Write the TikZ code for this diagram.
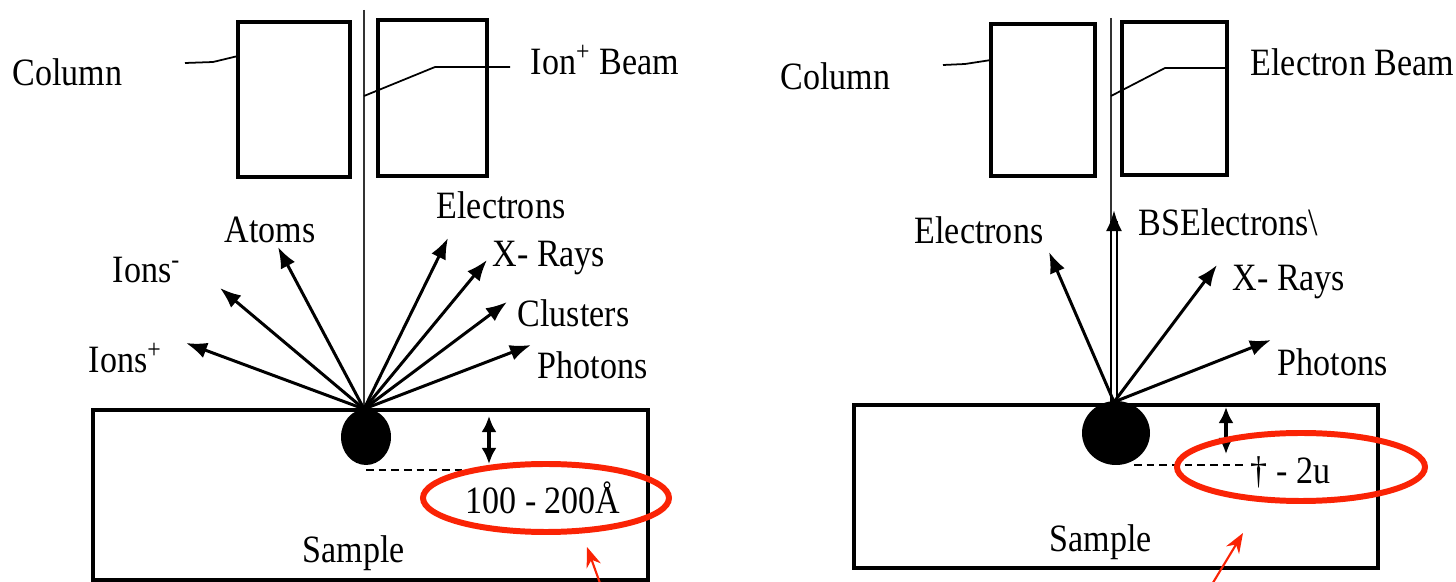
\documentclass[tikz,border=0pt]{standalone}
\usepackage{fontspec}
\setmainfont{Liberation Serif}
\usetikzlibrary{arrows.meta}
\definecolor{markred}{RGB}{250,35,5}
\newcommand{\narrow}[1]{\scalebox{0.88}[1]{#1}}

\begin{document}
\begin{tikzpicture}[x=0.01cm, y=-0.01cm,
  lbl/.style={inner sep=0pt, font=\fontsize{11}{13}\selectfont},
  colbox/.style={line width=1.1pt},
  samplebox/.style={line width=0.9pt},
  beam/.style={line width=0.45pt, black!80},
  leader/.style={line width=0.5pt},
  ray/.style={line width=0.85pt, -{Latex[length=2.1mm,width=1.6mm]}},
  depth/.style={line width=1pt, {Latex[length=1.6mm,width=1.5mm]}-{Latex[length=1.6mm,width=1.5mm]}},
  dashline/.style={line width=0.6pt, dash pattern=on 2.2pt off 1.4pt},
  ring/.style={draw=markred, line width=1.7pt},
  pointer/.style={draw=markred, line width=0.6pt, -{Stealth[length=2mm,width=1.5mm]}}]
  \useasboundingbox (0,0) rectangle (1456,582);

  % ---- left: ion beam ----
  \draw[colbox] (238,22) rectangle (350,177);
  \draw[colbox] (378,20) rectangle (487,176);
  \coordinate (beamTopL) at (364,10);
  \coordinate (hitL) at (364,409);
  \draw[beam] (beamTopL) -- (hitL);
  \node[lbl, anchor=west] (colLblL) at (12,72) {\narrow{Column}};
  \node[lbl, anchor=west] (ionBeam) at (530,60) {\narrow{Ion\textsuperscript{+} Beam}};
  \coordinate (colPinL) at (185,63);
  \coordinate (colEdgeL) at (238,56);
  \draw[leader] (colPinL) -- (213,62) -- (colEdgeL);
  \coordinate (beamPinL) at (364,96);
  \coordinate (ionPin) at (510,67);
  \draw[leader] (beamPinL) -- (435,67) -- (ionPin);

  \coordinate (tIonP) at (186,343);
  \coordinate (tIonM) at (220,288);
  \coordinate (tAtom) at (278,247);
  \coordinate (tElecL) at (448,238);
  \coordinate (tXrayL) at (487,260);
  \coordinate (tClus) at (507,302);
  \coordinate (tPhotL) at (531,345);
  \draw[ray] (hitL) -- (tIonP);
  \draw[ray] (hitL) -- (tIonM);
  \draw[ray] (hitL) -- (tAtom);
  \draw[ray] (hitL) -- (tElecL);
  \draw[ray] (hitL) -- (tXrayL);
  \draw[ray] (hitL) -- (tClus);
  \draw[ray] (hitL) -- (tPhotL);
  \node[lbl, anchor=west] (ionsP) at (88,358) {\narrow{Ions\textsuperscript{+}}};
  \node[lbl, anchor=west] (ionsM) at (112,270) {\narrow{Ions\textsuperscript{-}}};
  \node[lbl, anchor=west] (atoms) at (224,230) {\narrow{Atoms}};
  \node[lbl, anchor=west] (elecL) at (436,205) {\narrow{Electrons}};
  \node[lbl, anchor=west] (xrayL) at (492,258) {\narrow{X- Rays}};
  \node[lbl, anchor=west] (clus) at (517,313) {\narrow{Clusters}};
  \node[lbl, anchor=west] (photL) at (537,365) {\narrow{Photons}};

  \draw[samplebox] (93,410) rectangle (648,580);
  \fill (366,437) ellipse [x radius=25, y radius=28];
  \coordinate (dashA) at (366,470);
  \coordinate (dashB) at (475,470);
  \draw[dashline] (dashA) -- (dashB);
  \coordinate (depTopL) at (489,416);
  \coordinate (depBotL) at (489,464);
  \draw[depth] (depTopL) -- (depBotL);
  \node[lbl] (rangeL) at (543,498) {\narrow{100 - 200Å}};
  \draw[ring] (546,498) ellipse [x radius=123, y radius=34];
  \node[lbl] (sampleL) at (354,553) {\narrow{Sample}};
  \coordinate (ptrFootL) at (601,586);
  \coordinate (ptrTipL) at (587,547);
  \draw[pointer] (ptrFootL) -- (ptrTipL);

  % ---- right: electron beam ----
  \draw[colbox] (991,24) rectangle (1095,176);
  \draw[colbox] (1122,22) rectangle (1227,175);
  \coordinate (beamTopR) at (1111,18);
  \coordinate (hitR) at (1114,402);
  \draw[beam] (beamTopR) -- (1111,402);
  \node[lbl, anchor=west] (colLblR) at (780,76) {\narrow{Column}};
  \node[lbl, anchor=west] (elecBeam) at (1250,62) {\narrow{Electron Beam}};
  \coordinate (colPinR) at (943,65);
  \coordinate (colEdgeR) at (991,60);
  \draw[leader] (colPinR) -- (965,64) -- (colEdgeR);
  \coordinate (beamPinR) at (1111,96);
  \coordinate (elecPin) at (1227,68);
  \draw[leader] (beamPinR) -- (1165,68) -- (elecPin);

  \coordinate (tElecR) at (1049,252);
  \coordinate (tBse) at (1114,210);
  \coordinate (tXrayR) at (1217,265);
  \coordinate (tPhotR) at (1271,340);
  \draw[ray] (hitR) -- (tElecR);
  \draw[line width=0.75pt] ([xshift=-0.85pt]hitR) -- ([xshift=-0.85pt,yshift=-3pt]tBse);
  \draw[line width=0.75pt] ([xshift=0.85pt]hitR) -- ([xshift=0.85pt,yshift=-3pt]tBse);
  \draw[ray] ([yshift=-5pt]tBse) -- (tBse);
  \draw[ray] (hitR) -- (tXrayR);
  \draw[ray] (hitR) -- (tPhotR);
  \node[lbl, anchor=west] (elecR) at (914,230) {\narrow{Electrons}};
  \node[lbl, anchor=west] (bse) at (1138,222) {\narrow{BSElectrons\textbackslash}};
  \node[lbl, anchor=west] (xrayR) at (1232,282) {\narrow{X- Rays}};
  \node[lbl, anchor=west] (photR) at (1277,362) {\narrow{Photons}};

  \draw[samplebox] (854,405) rectangle (1378,568);
  \fill (1116,433) ellipse [x radius=34, y radius=32];
  \coordinate (dashC) at (1134,465);
  \coordinate (dashD) at (1247,465);
  \draw[dashline] (dashC) -- (dashD);
  \coordinate (depTopR) at (1226,407);
  \coordinate (depBotR) at (1226,454);
  \draw[depth] (depTopR) -- (depBotR);
  \node[lbl, anchor=west] (rangeR) at (1250,472) {\narrow{† - 2u}};
  \draw[ring] (1301,467) ellipse [x radius=124, y radius=34];
  \node[lbl] (sampleR) at (1101,542) {\narrow{Sample}};
  \coordinate (ptrFootR) at (1211,586);
  \coordinate (ptrTipR) at (1243,533);
  \draw[pointer] (ptrFootR) -- (ptrTipR);
\end{tikzpicture}
\end{document}
